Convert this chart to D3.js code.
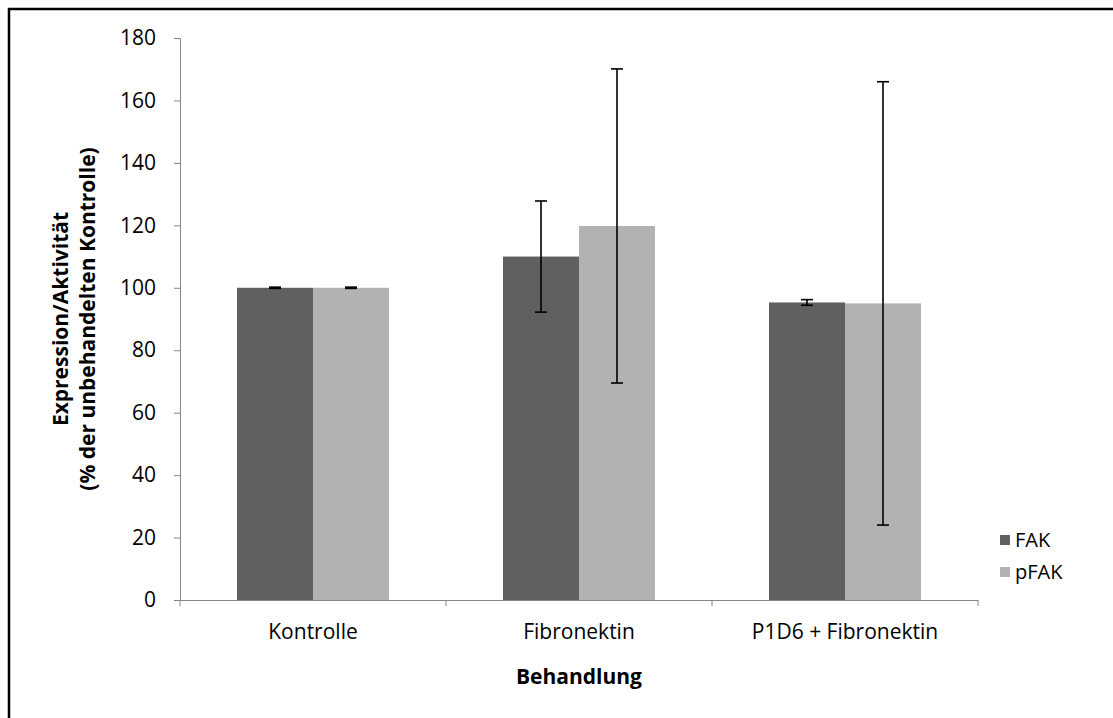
<!DOCTYPE html>
<html>
<head>
<meta charset="utf-8">
<script src="https://cdn.jsdelivr.net/npm/d3@7"></script>
<style>
  html, body { margin: 0; padding: 0; background: #fff; overflow: hidden; }
  svg { display: block; font-family: "Open Sans", sans-serif; }
</style>
</head>
<body>
<svg id="chart" width="1113" height="718"></svg>
<script>
// Treatment groups and measured series (% of untreated control)
const categories = ["Kontrolle", "Fibronektin", "P1D6 + Fibronektin"];
const seriesNames = ["FAK", "pFAK"];
const fakValues = [100, 110, 95.3];
const fakErrors = [0.2, 17.8, 0.9];
const pfakValues = [100, 119.8, 95];
const pfakErrors = [0.2, 50.3, 71];
const yTicks = [0, 20, 40, 60, 80, 100, 120, 140, 160, 180];
const colors = ["#606060", "#b2b2b2"];

const seriesValues = [fakValues, pfakValues];
const seriesErrors = [fakErrors, pfakErrors];

const svg = d3.select("#chart");

// outer frame (top and left edges lie inside the canvas)
svg.append("path")
  .attr("d", "M9,718 L9,9 L1113,9")
  .attr("fill", "none").attr("stroke", "#000").attr("stroke-width", 2.5);

const plot = { left: 180, right: 978, top: 38, bottom: 600 };

const y = d3.scaleLinear().domain([0, 180]).range([plot.bottom, plot.top]);
const x0 = d3.scaleBand().domain(categories).range([plot.left, plot.right]).padding(0);
const x1 = d3.scaleBand().domain(seriesNames).range([0, x0.bandwidth()])
  .paddingInner(0).paddingOuter(0.75);

const axisColor = "#868686";

// y axis
const yAxis = svg.append("g")
  .attr("transform", `translate(${plot.left},0)`)
  .call(d3.axisLeft(y).tickValues(yTicks).tickSize(6).tickPadding(18));
yAxis.select(".domain").attr("stroke", axisColor);
yAxis.selectAll(".tick line").attr("stroke", axisColor);
yAxis.selectAll("text").attr("font-size", 21).attr("fill", "#000")
  .attr("font-family", "Open Sans, sans-serif");

// bars
categories.forEach((cat, ci) => {
  seriesNames.forEach((s, si) => {
    const v = seriesValues[si][ci];
    svg.append("rect")
      .attr("x", x0(cat) + x1(s))
      .attr("y", y(v))
      .attr("width", x1.bandwidth())
      .attr("height", y(0) - y(v))
      .attr("fill", colors[si]);
  });
});

// x axis (drawn over bar bottoms)
const xAxis = svg.append("g")
  .attr("transform", `translate(0,${plot.bottom})`)
  .call(d3.axisBottom(x0).tickSize(0).tickPadding(24));
xAxis.select(".domain").attr("stroke", axisColor);
xAxis.selectAll("text").attr("font-size", 21).attr("fill", "#000")
  .attr("font-family", "Open Sans, sans-serif");
// category boundary ticks
const bounds = categories.map(c => x0(c)).concat([x0.range()[1]]);
svg.append("g").selectAll("line").data(bounds).join("line")
  .attr("x1", d => d).attr("x2", d => d)
  .attr("y1", plot.bottom).attr("y2", plot.bottom + 6)
  .attr("stroke", axisColor);

// error bars
categories.forEach((cat, ci) => {
  seriesNames.forEach((s, si) => {
    const v = seriesValues[si][ci];
    const e = seriesErrors[si][ci];
    const cx = x0(cat) + x1(s) + x1.bandwidth() / 2;
    const g = svg.append("g").attr("stroke", "#000").attr("stroke-width", 1.6);
    g.append("line").attr("x1", cx).attr("x2", cx).attr("y1", y(v + e)).attr("y2", y(v - e));
    [v + e, v - e].forEach(val => {
      g.append("line").attr("x1", cx - 6).attr("x2", cx + 6)
        .attr("y1", y(val)).attr("y2", y(val));
    });
  });
});

// axis titles
svg.append("text")
  .attr("x", (plot.left + plot.right) / 2).attr("y", 684)
  .attr("text-anchor", "middle").attr("font-weight", "bold").attr("font-size", 21)
  .text("Behandlung");

const yTitle = svg.append("text")
  .attr("transform", `translate(68,${(plot.top + plot.bottom) / 2}) rotate(-90)`)
  .attr("text-anchor", "middle").attr("font-weight", "bold").attr("font-size", 21);
yTitle.append("tspan").attr("x", 0).attr("dy", 0).text("Expression/Aktivität");
yTitle.append("tspan").attr("x", 0).attr("dy", 27).text("(% der unbehandelten Kontrolle)");

// legend
const legend = svg.append("g");
seriesNames.forEach((s, i) => {
  const ly = 540 + i * 32;
  legend.append("rect").attr("x", 1000).attr("y", ly - 5).attr("width", 10).attr("height", 10)
    .attr("fill", colors[i]);
  legend.append("text").attr("x", 1015).attr("y", ly).attr("dy", "0.35em")
    .attr("font-size", 20).text(s);
});
</script>
</body>
</html>
